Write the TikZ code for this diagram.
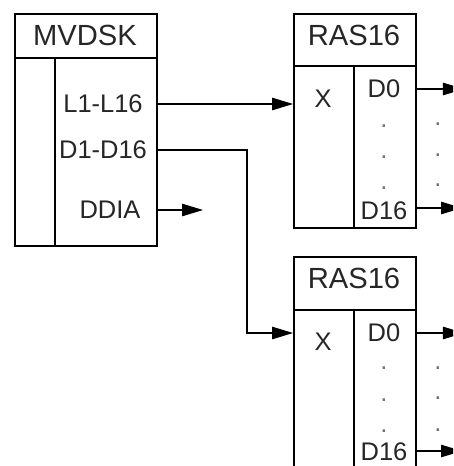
\documentclass[tikz,border=0pt]{standalone}
\usepackage{fontspec}
\setmainfont{Liberation Sans}
\usetikzlibrary{arrows.meta}
\begin{document}
\begin{tikzpicture}[x=0.02cm, y=-0.02cm,
  blk/.style={draw, line width=1.1pt, anchor=north west, inner sep=0pt},
  sep/.style={line width=1.1pt},
  head/.style={font=\fontsize{16.6}{20}\selectfont, text=black!85, inner sep=0pt},
  lbl/.style={font=\fontsize{14.5}{17}\selectfont, text=black!85, inner sep=0pt},
  pt/.style={font=\fontsize{14.5}{17}\selectfont, text=black!55, inner sep=0pt},
  arr/.style={line width=0.6pt, -{Triangle[length=4.2mm, width=2.5mm]}}]
\clip (0,0) rectangle (453,466);
\node[blk, minimum width=2.84cm, minimum height=4.64cm] (mv) at (14,13) {};
\node[blk, minimum width=2.44cm, minimum height=4.28cm] (r1) at (293,13) {};
\node[blk, minimum width=2.44cm, minimum height=4.68cm] (r2) at (293,256) {};
\draw[sep] (14,58) -- (156,58) (55,58) -- (55,245);
\draw[sep] (293,66) -- (415,66) (354,66) -- (354,227);
\draw[sep] (293,310) -- (415,310) (354,310) -- (354,490);
\node[head] (mvt) at (85,35) {MVDSK};
\node[head] (r1t) at (354,35) {RAS16};
\node[head] (r2t) at (354,278) {RAS16};
\node[lbl] (l1) at (103,104) {L1-L16};
\node[lbl] (d1) at (103,150) {D1-D16};
\node[lbl] (ddia) at (110,210) {DDIA};
\node[lbl] (x1) at (323,99) {X};
\node[lbl] (o1a) at (384,89) {D0};
\node[lbl] (o1b) at (384,211) {D16};
\node[lbl] (x2) at (323,342) {X};
\node[lbl] (o2a) at (384,333) {D0};
\node[lbl] (o2b) at (384,452) {D16};
\foreach \y in {126,157,188,368,400,431} \node[pt] (pa\y) at (384,\y) {.};
\foreach \y in {124,155,185,368,398,430} \node[pt] (pb\y) at (438,\y) {.};
\coordinate (bend) at (247,150);
\coordinate (ddiaout) at (203,210);
\draw[arr] (l1 -| mv.east) -- (l1 -| r1.west);
\draw[arr] (d1 -| mv.east) -- (bend) |- (o2a -| r2.west);
\draw[arr] (ddia -| mv.east) -- (ddiaout);
\draw[arr] (o1a -| r1.east) -- ++(47,0);
\draw[arr] (415,208) -- ++(47,0);
\draw[arr] (o2a -| r2.east) -- ++(47,0);
\draw[arr] (415,451) -- ++(47,0);
\end{tikzpicture}
\end{document}
